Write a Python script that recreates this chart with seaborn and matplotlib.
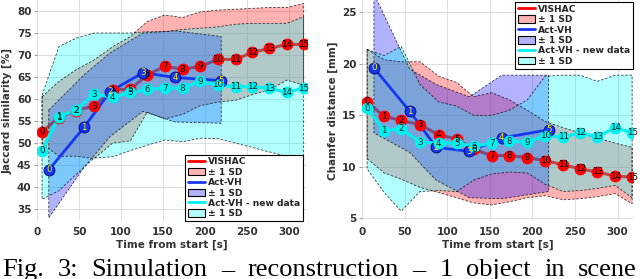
import matplotlib
matplotlib.use("Agg")
import matplotlib.pyplot as plt
import seaborn as sns
import numpy as np
import pandas as pd
from matplotlib.lines import Line2D
from matplotlib.patches import Patch

# ---------------- data ----------------
times = [6, 26, 46, 68, 90, 111, 131, 152, 173, 194, 215, 236, 256, 276, 297, 317]
blue_times = [14, 56, 87, 126, 164, 219]

# Jaccard similarity [%]
vishac_j = [52.6, 55.8, 57.4, 58.4, 62.1, 62.2, 65.5, 67.4, 66.8, 67.4, 69.0, 69.0, 70.6, 71.5, 72.4, 72.4]
vishac_j_hi = [60.5, 64.0, 66.6, 68.9, 71.9, 74.2, 77.6, 79.1, 78.5, 79.8, 80.2, 80.4, 80.6, 80.8, 80.8, 81.7]
vishac_j_lo = [50.0, 47.0, 47.0, 46.5, 50.0, 50.5, 57.0, 55.5, 56.5, 58.5, 59.3, 59.7, 61.0, 62.0, 64.3, 63.2]
actvh_j = [43.9, 53.6, 61.7, 66.0, 64.9, 64.2]
actvh_j_hi = [57.5, 65.5, 70.5, 75.0, 75.5, 74.2]
actvh_j_lo = [33.0, 44.5, 51.5, 57.2, 54.8, 54.5]
new_j = [48.3, 56.0, 57.5, 61.1, 60.4, 61.5, 62.2, 62.5, 62.5, 64.0, 63.2, 62.8, 62.8, 62.5, 61.5, 62.5]
new_j_hi = [60.9, 71.9, 73.8, 75.0, 75.0, 75.0, 75.3, 75.3, 75.8, 76.1, 76.4, 77.0, 77.2, 77.2, 77.2, 78.7]
new_j_lo = [37.2, 39.2, 42.8, 46.6, 46.9, 48.3, 49.5, 50.7, 50.3, 51.1, 51.0, 50.0, 49.0, 48.0, 47.0, 46.5]

# Chamfer distance [mm]
vishac_c = [16.3, 14.9, 14.5, 14.1, 13.1, 12.7, 11.7, 11.1, 11.1, 10.9, 10.6, 10.2, 9.8, 9.5, 9.1, 9.0]
vishac_c_hi = [21.4, 20.4, 20.2, 20.2, 18.8, 18.2, 16.8, 17.2, 16.5, 15.5, 14.4, 13.8, 13.3, 12.8, 12.3, 11.9]
vishac_c_lo = [10.8, 9.4, 8.8, 8.0, 7.5, 7.0, 6.5, 6.3, 6.6, 7.0, 7.2, 6.8, 6.9, 7.1, 7.4, 6.4]
actvh_c = [19.6, 15.4, 11.9, 11.5, 12.8, 13.6]
actvh_c_hi = [26.8, 19.5, 18.0, 16.8, 18.9, 18.9]
actvh_c_lo = [13.3, 11.4, 8.7, 7.0, 6.9, 7.6]
new_c = [15.7, 13.5, 13.7, 12.4, 12.3, 12.3, 12.0, 12.3, 12.5, 12.4, 13.0, 12.9, 13.3, 12.9, 13.8, 13.3]
new_c_hi = [21.4, 20.8, 21.7, 18.0, 16.3, 15.9, 15.0, 15.0, 15.5, 16.5, 18.8, 18.9, 18.9, 18.3, 18.9, 18.9]
new_c_lo = [9.8, 7.5, 5.7, 7.6, 7.7, 7.6, 8.7, 9.3, 9.5, 9.4, 8.3, 7.6, 7.7, 7.9, 8.2, 7.0]

series_labels = ["VISHAC", "Act-VH", "Act-VH - new data"]
sd_label = "\u00b1 1 SD"
caption_words = ["Fig.", "3:", "Simulation", "\u2013", "reconstruction", "\u2013", "1", "object", "in", "scene"]

# ---------------- style ----------------
sns.set_theme(style="whitegrid")
plt.rcParams["font.family"] = ["DejaVu Sans"]
plt.rcParams["font.weight"] = "bold"

RED, BLUE, CYAN = "#ff0000", "#1438f0", "#00f0f0"
FILL_A = 0.3
TXT = "#333333"

fig = plt.figure(figsize=(6.4, 2.79), dpi=100)
axL = fig.add_axes([37 / 640, 1 - 221 / 279, 270 / 640, 221 / 279])
axR = fig.add_axes([362 / 640, 1 - 221 / 279, 271 / 640, 221 / 279])


def band(ax, x, lo, hi, color):
    xs = list(x) + list(x)[::-1]
    ys = list(hi) + list(lo)[::-1]
    ax.fill(xs, ys, facecolor=color, alpha=FILL_A, edgecolor="none", zorder=2)
    ax.fill(xs, ys, facecolor="none", edgecolor=(0, 0, 0, 0.75), lw=0.6,
            linestyle=(0, (3, 2)), zorder=2.1)


def series(ax, x, y, color, lw, z_line, txtcolor, edge):
    df = pd.DataFrame({"t": x, "v": y})
    sns.lineplot(data=df, x="t", y="v", ax=ax, color=color, lw=lw, sort=False,
                 estimator=None, zorder=z_line, legend=False)
    sns.scatterplot(data=df, x="t", y="v", ax=ax, color=color, s=62,
                    edgecolor=edge, linewidth=0.6, zorder=4, legend=False)
    for i, (xi, yi) in enumerate(zip(x, y)):
        ax.text(xi, yi, str(i), ha="center", va="center", fontsize=6.3,
                color=txtcolor, fontweight="normal", zorder=5)


def panel(ax, red, red_lo, red_hi, blue, blue_lo, blue_hi, cyan, cyan_lo, cyan_hi):
    band(ax, times, red_lo, red_hi, RED)
    band(ax, blue_times, blue_lo, blue_hi, "#0000ff")
    band(ax, times, cyan_lo, cyan_hi, "#00ffff")
    series(ax, times, red, RED, 2.2, 1.5, "black", RED)
    series(ax, blue_times, blue, BLUE, 2.0, 3, "#ffee00", "#000080")
    series(ax, times, cyan, CYAN, 2.2, 3.1, "#222222", CYAN)


panel(axL, vishac_j, vishac_j_lo, vishac_j_hi, actvh_j, actvh_j_lo, actvh_j_hi,
      new_j, new_j_lo, new_j_hi)
panel(axR, vishac_c, vishac_c_lo, vishac_c_hi, actvh_c, actvh_c_lo, actvh_c_hi,
      new_c, new_c_lo, new_c_hi)

axL.set_xlim(0, 321)
axL.set_ylim(32.3, 82.5)
axL.set_yticks(np.arange(35, 81, 5))
axR.set_xlim(0, 318)
axR.set_ylim(4.74, 26.2)
axR.set_yticks([5, 10, 15, 20, 25])

for ax, ylab in [(axL, "Jaccard similarity [%]"), (axR, "Chamfer distance [mm]")]:
    ax.set_xticks([0, 50, 100, 150, 200, 250, 300])
    ax.set_xlabel("Time from start [s]", fontsize=7.5, fontweight="bold", color=TXT, labelpad=2)
    ax.set_ylabel(ylab, fontsize=7.5, fontweight="bold", color=TXT, labelpad=3)
    ax.tick_params(labelsize=7.5, colors=TXT, length=2, width=0.6, pad=2,
                   left=True, bottom=False, color="#888888")
    for lab in ax.get_xticklabels() + ax.get_yticklabels():
        lab.set_fontweight("bold")
    for s in ax.spines.values():
        s.set_visible(False)
    ax.grid(True, color="#dddddd", lw=0.7)
    ax.set_axisbelow(True)

handles = [
    Line2D([], [], color=RED, lw=2),
    Patch(facecolor=(1, 0, 0, FILL_A), edgecolor="black", lw=0.8),
    Line2D([], [], color=BLUE, lw=2),
    Patch(facecolor=(0, 0, 1, FILL_A), edgecolor="black", lw=0.8),
    Line2D([], [], color=CYAN, lw=2),
    Patch(facecolor=(0, 1, 1, FILL_A), edgecolor="black", lw=0.8),
]
labels = [series_labels[0], sd_label, series_labels[1], sd_label, series_labels[2], sd_label]
legkw = dict(frameon=True, fancybox=False, framealpha=1, edgecolor="black",
             labelspacing=0.15, handlelength=1.9, handleheight=0.9, handletextpad=0.3,
             borderpad=0.3, borderaxespad=0, prop={"weight": "bold", "size": 6.6})
lg1 = axL.legend(handles, labels, loc="lower right", bbox_to_anchor=(0.985, 0.0), **legkw)
lg2 = axR.legend(handles, labels, loc="upper right", bbox_to_anchor=(1.0, 0.99), **legkw)
for lg in (lg1, lg2):
    lg.get_frame().set_linewidth(0.8)
    lg.set_zorder(10)

# justified caption across the full width
cap_texts = [fig.text(0, 3 / 279, w, fontsize=19, family="Liberation Serif",
                      fontweight="normal", va="baseline", ha="left", color="black")
             for w in caption_words]
fig.canvas.draw()
renderer = fig.canvas.get_renderer()
widths = [t.get_window_extent(renderer).width for t in cap_texts]
x0, x1 = 2.0, 637.0
gap = (x1 - x0 - sum(widths)) / (len(widths) - 1)
xpos = x0
for t, wdt in zip(cap_texts, widths):
    t.set_x(xpos / 640)
    xpos += wdt + gap

fig.savefig("out.png", dpi=100)
